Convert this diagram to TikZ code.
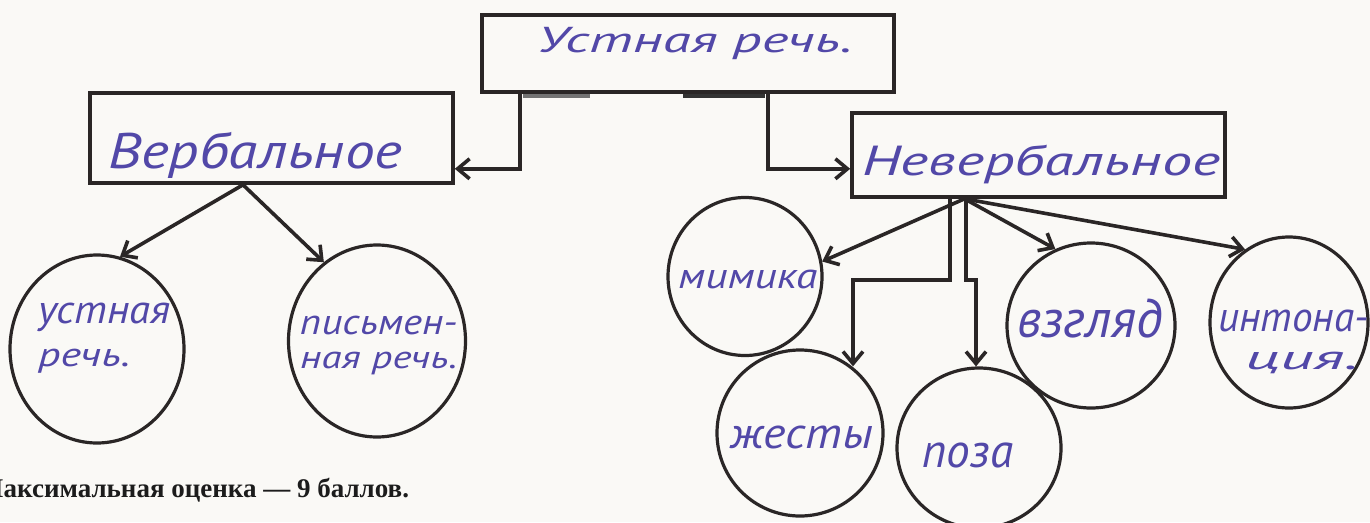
\documentclass[tikz,border=0pt]{standalone}
\usepackage{fontspec}
\usepackage{graphicx}
\setmainfont{Liberation Serif}
\newfontfamily\hwbase{PT Sans}
\newcommand\hwf{\hwbase\itshape}
\usetikzlibrary{arrows.meta,shapes.geometric}
\definecolor{ink}{RGB}{82,72,168}
\definecolor{pen}{RGB}{42,38,38}
\definecolor{paper}{RGB}{250,249,246}
\definecolor{printed}{RGB}{28,28,28}
\newcommand\hw[3]{\resizebox{#1pt}{#2pt}{\hwf\smash{#3}\rule{0pt}{1ex}}}
\begin{document}
\begin{tikzpicture}[x=1pt,y=-1pt,
  box/.style={draw=pen, line width=3.6pt, rectangle, inner sep=0pt},
  bubble/.style={draw=pen, line width=3.2pt, ellipse, inner sep=0pt},
  arr/.style={draw=pen, line width=3.6pt, line join=miter, -{Straight Barb[length=12pt,width=20pt]}},
  hwt/.style={anchor=base west, inner sep=0pt, text=ink},
  smudge/.style={line width=5pt, line cap=butt}]
\useasboundingbox (0,0) rectangle (1370,522);
\fill[paper] (0,0) rectangle (1370,522);

% scan smudges under the top box
\draw[smudge, black!55] (523,95.5) -- (590,95.5);
\draw[smudge, black!80] (683,95.5) -- (765,95.5);

% boxes
\node[box, minimum width=412pt, minimum height=77pt] (top) at (688,53.5) {};
\node[box, minimum width=363pt, minimum height=90pt] (verb) at (271.5,138) {};
\node[box, minimum width=373pt, minimum height=84pt] (nv) at (1038.5,155) {};

% bubbles
\node[bubble, minimum width=174pt, minimum height=188pt] (c1) at (97,349) {};
\node[bubble, minimum width=177pt, minimum height=192pt] (c2) at (377,341) {};
\node[bubble, minimum width=154pt, minimum height=158pt] (m) at (745,276.5) {};
\node[bubble, minimum width=166pt, minimum height=166pt] (g) at (800,433) {};
\node[bubble, minimum width=164pt, minimum height=160pt] (p) at (979,448) {};
\node[bubble, minimum width=168pt, minimum height=165pt] (v) at (1091,325.5) {};
\node[bubble, minimum width=158pt, minimum height=171pt] (i) at (1289,322.5) {};

% handwritten labels
\node[hwt] (t0) at (537,52) {\hw{315}{18}{Устная речь.}};
\node[hwt] (t1) at (108,168) {\hw{294}{25}{Вербальное}};
\node[hwt] (t2) at (862,175) {\hw{358}{21}{Невербальное}};
\node[hwt] (t3a) at (38,323) {\hw{132}{20}{устная}};
\node[hwt] (t3b) at (38,366) {\hw{92}{17}{речь.}};
\node[hwt] (t4a) at (300,334) {\hw{157}{18}{письмен-}};
\node[hwt] (t4b) at (300,368) {\hw{157}{16}{ная речь.}};
\node[hwt] (t5) at (678,288) {\hw{139}{18}{мимика}};
\node[hwt] (t6) at (730,448) {\hw{143}{22}{жесты}};
\node[hwt] (t7) at (922,467) {\hw{91}{24}{поза}};
\node[hwt] (t8) at (1017,337) {\hw{146}{27}{взгляд}};
\node[hwt] (t9a) at (1218,331) {\hw{150}{21}{интона-}};
\node[hwt] (t9b) at (1245,369) {\hw{113}{17}{ция.}};

% connectors from the top box
\draw[arr] ([xshift=40pt]top.south west) |- ([yshift=16pt]verb.south east);
\draw[arr] ([xshift=-128pt]top.south east) |- ([yshift=30pt]nv.south west);

% from Вербальное
\coordinate (vo) at ([xshift=-28.5pt]verb.south);
\draw[arr] (vo) -- (c1.76);
\draw[arr] (vo) -- (c2.124);

% from Невербальное
\coordinate (nvo) at ([xshift=-74pt]nv.south);
\draw[arr] (nvo) -- (m.11);
\draw[arr] (nvo) -- (v.115);
\draw[arr] (nvo) -- (i.121);
\coordinate (j1) at (950,280);
\coordinate (j2) at (853,280);
\coordinate (j3) at (966,280);
\coordinate (j4) at (976,280);
\draw[arr] (nv.south -| j1) -- (j1) -- (j2) -- (j2 |- g.52);
\draw[arr] (nv.south -| j3) -- (j3) -- (j4) -- (j4 |- p.north);

% printed caption (cut at the left edge, as in the scan)
\node[anchor=base west, inner sep=0pt, text=printed, font=\fontsize{27}{30}\selectfont\bfseries] (note) at (-22,497) {Максимальная оценка — 9 баллов.};
\end{tikzpicture}
\end{document}
